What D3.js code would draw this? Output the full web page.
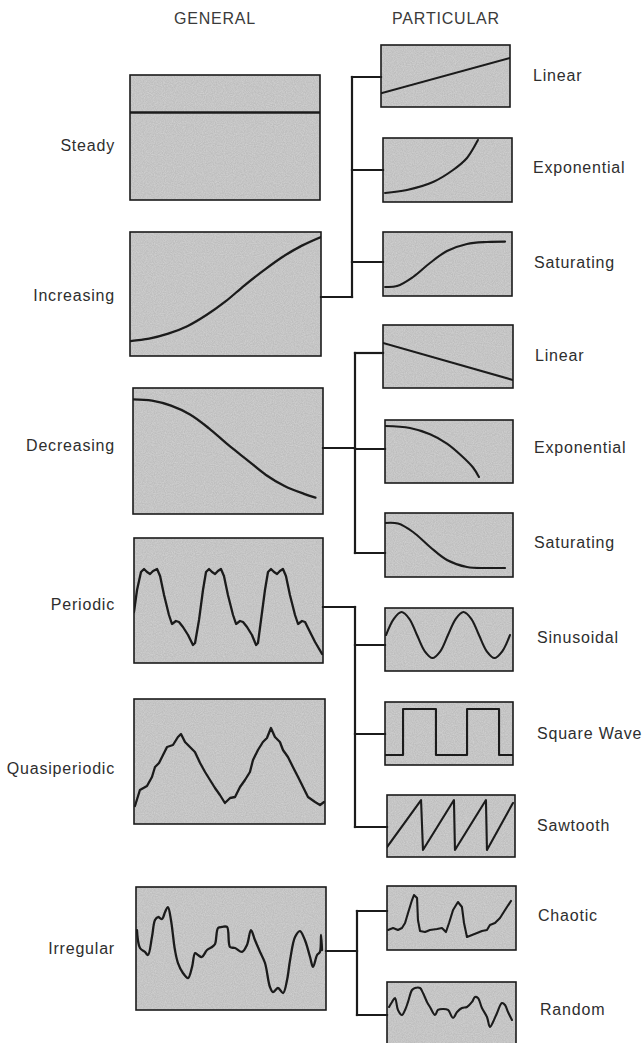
<!DOCTYPE html>
<html>
<head>
<meta charset="utf-8">
<script src="https://cdn.jsdelivr.net/npm/d3@7"></script>
<style>
  html, body { margin: 0; padding: 0; background: #ffffff; }
  svg { display: block; }
  text { font-family: "Liberation Sans", Arial, Helvetica, sans-serif; fill: #2e2e2e; }
</style>
</head>
<body>
<svg id="chart" width="642" height="1043"></svg>
<script>
// ---------------- DATA (time t: 0-100, value v: 0-100 inside each panel) ----------------
const headers = ["GENERAL", "PARTICULAR"];
const generalCategories = ["Steady", "Increasing", "Decreasing", "Periodic", "Quasiperiodic", "Irregular"];
const particularCategories = ["Linear", "Exponential", "Saturating", "Linear", "Exponential", "Saturating",
  "Sinusoidal", "Square Wave", "Sawtooth", "Chaotic", "Random"];
// which general category each particular one belongs to
const particularParent = ["Increasing", "Increasing", "Increasing", "Decreasing", "Decreasing", "Decreasing",
  "Periodic", "Periodic", "Periodic", "Irregular", "Irregular"];

const steadySeries = [[0, 70], [100, 70]];
const increasingSeries = [[0, 12], [10, 14], [20, 18], [30, 24], [40, 33], [50, 44], [60, 57], [70, 69], [80, 80], [90, 89], [100, 96]];
const decreasingSeries = [[0, 91], [10, 90], [20, 86], [30, 79], [40, 68], [50, 55], [60, 43], [70, 31], [80, 22], [90, 16], [96, 13]];
const periodicSeries = [
  [0, 40.8], [1.6, 58.4], [3.7, 72.8], [5.3, 75.2], [6.9, 72.8], [8.5, 71.2], [10.1, 73.6], [12.2, 75.2], [13.8, 69.6],
  [15.9, 54.4], [18.5, 38.4], [20.1, 31.2], [22.2, 33.6], [23.8, 32.8], [25.9, 28.8], [28.6, 22.4], [31.2, 14.4], [32.3, 16],
  [34.4, 34.4], [36.5, 58.4], [38.1, 72.8], [39.7, 75.2], [41.3, 72.8], [42.9, 71.2], [44.4, 73.6], [46.0, 75.2], [47.6, 69.6],
  [49.7, 54.4], [52.4, 38.4], [54.0, 31.2], [56.1, 33.6], [57.7, 32.8], [59.8, 28.8], [62.4, 22.4], [64.6, 14.4], [65.6, 16],
  [67.2, 34.4], [69.3, 58.4], [70.9, 72.8], [72.5, 75.2], [74.1, 72.8], [75.7, 71.2], [77.2, 73.6], [78.8, 75.2], [80.4, 69.6],
  [82.5, 54.4], [85.2, 38.4], [86.8, 31.2], [88.9, 33.6], [90.5, 32.8], [92.6, 26.4], [95.8, 16.8], [99.5, 7.2]];
const quasiperiodicSeries = [
  [0.5, 14.4], [3.1, 27.2], [6.8, 30.4], [9.4, 37.6], [11.0, 45.6], [13.1, 48.8], [15.2, 55.2], [17.3, 61.6], [20.4, 63.2],
  [23.0, 69.6], [24.6, 72.0], [26.7, 65.6], [29.3, 61.6], [31.9, 57.6], [34.6, 48.8], [37.2, 41.6], [39.8, 35.2], [42.4, 28.8],
  [45.0, 23.2], [47.6, 16.8], [50.3, 20.8], [52.9, 21.6], [55.5, 29.6], [58.1, 35.2], [60.7, 41.6], [62.3, 51.2], [64.9, 59.2],
  [67.5, 65.6], [69.6, 68.8], [71.7, 76.8], [73.8, 69.6], [76.4, 65.6], [78.0, 59.2], [80.6, 53.6], [83.2, 45.6], [85.9, 37.6],
  [88.5, 29.6], [91.1, 21.6], [94.8, 17.6], [97.4, 15.2], [99.5, 17.6]];
const irregularSeries = [
  [0.5, 65.0], [2.1, 50.4], [4.7, 47.2], [6.3, 44.7], [8.4, 59.3], [10.0, 73.2], [11.6, 75.6], [13.7, 74.0], [15.3, 79.7],
  [16.8, 83.7], [18.4, 73.2], [20.5, 48.8], [22.1, 38.2], [24.7, 30.1], [27.4, 26.0], [29.5, 35.0], [31.1, 46.3], [32.6, 44.7],
  [34.7, 43.1], [37.4, 48.8], [40.0, 51.2], [41.6, 53.7], [43.2, 66.7], [45.3, 67.5], [47.9, 67.5], [49.5, 51.2], [52.1, 50.4],
  [55.8, 47.2], [58.4, 52.8], [60.5, 65.0], [62.6, 56.9], [65.3, 47.2], [67.9, 38.2], [70.5, 18.7], [72.1, 14.6], [74.7, 17.9],
  [77.4, 13.8], [79.5, 24.4], [81.1, 40.7], [83.7, 59.3], [86.3, 64.2], [88.9, 56.9], [91.6, 43.1], [93.2, 35.0], [95.3, 44.7],
  [96.8, 47.2], [97.4, 61.0], [97.9, 48.8]];

const linearUpSeries = [[0, 22], [100, 79]];
const exponentialUpSeries = [[1.6, 14.1], [18.6, 18.8], [38.8, 31.3], [54.3, 50], [65.1, 68.8], [73.6, 96.9]];
const saturatingUpSeries = [[1.6, 14.1], [10.9, 15.5], [23.3, 29.7], [36.4, 51.6], [49.6, 70.3], [65.1, 81.3], [80.6, 84.4], [94.6, 85]];
const linearDownSeries = [[0, 71.4], [100, 12.7]];
const exponentialDownSeries = [[0, 90.5], [19.5, 87.3], [35.2, 77.4], [48.4, 62.6], [60.2, 42.5], [68.8, 24.6], [73.4, 9.5]];
const saturatingDownSeries = [[0, 84.4], [10.2, 83.5], [21.9, 70.3], [35.2, 46.9], [48.4, 26.6], [64.1, 15.6], [79.7, 14.1], [93.8, 14.1]];
const sinusoidalSeries = [[0.8, 57.1], [6.9, 82.9], [12.9, 93.6], [19.0, 82.9], [25.0, 57.1], [31.1, 31.3], [37.1, 20.6], [43.2, 31.3],
  [49.2, 57.1], [55.3, 82.9], [61.3, 93.6], [67.4, 82.9], [73.4, 57.1], [79.5, 31.3], [85.5, 20.6], [91.6, 31.3], [97.6, 57.1]];
const squareWaveSeries = [[0, 15.9], [14.1, 88.9], [39.8, 15.9], [64.1, 88.9], [89.1, 15.9], [100, 15.9]];
const sawtoothSeries = [[0, 16.1], [26.6, 91.9], [28.1, 11.3], [52.3, 91.9], [53.1, 11.3], [77.3, 91.9], [78.1, 11.3], [98.4, 87.1]];
const chaoticSeries = [
  [0.8, 31.3], [4.7, 34.4], [8.5, 31.3], [11.6, 34.4], [14.0, 42.2], [16.3, 57.8], [19.4, 78.1], [20.9, 85.9], [23.3, 81.3],
  [24.0, 46.9], [25.6, 29.7], [29.5, 28.1], [33.3, 31.3], [38.8, 32.8], [42.6, 34.4], [45.7, 28.1], [48.1, 42.2], [51.2, 62.5],
  [55.0, 75.0], [58.1, 67.2], [59.7, 42.2], [62.0, 20.3], [65.9, 23.4], [69.8, 26.6], [73.6, 29.7], [77.5, 31.3], [79.8, 39.1],
  [83.7, 42.2], [87.6, 50.0], [91.5, 62.5], [96.1, 76.6]];
const randomSeries = [
  [1.6, 60.9], [3.9, 68.8], [6.2, 75.0], [8.5, 56.3], [11.6, 48.4], [14.0, 56.3], [16.3, 68.8], [19.4, 87.5], [21.7, 90.6],
  [25.6, 90.6], [27.9, 82.8], [31.0, 68.8], [33.3, 60.9], [37.2, 48.4], [39.5, 56.3], [43.4, 57.8], [47.3, 56.3], [51.2, 43.8],
  [54.3, 53.1], [58.1, 59.4], [62.0, 60.9], [65.9, 68.8], [68.2, 76.6], [70.5, 75.0], [73.6, 59.4], [77.5, 45.3], [79.8, 29.7],
  [82.2, 37.5], [85.3, 51.6], [89.1, 67.2], [91.5, 64.1], [93.8, 53.1], [96.9, 40.6]];

// ---------------- LAYOUT (positions / sizes / styles only) ----------------
const generalPanels = [
  { box: [130, 75, 190, 125], series: steadySeries, curve: d3.curveLinear, labelY: 145 },
  { box: [130, 232, 191, 124], series: increasingSeries, curve: d3.curveCatmullRom, labelY: 295, outY: 297 },
  { box: [133, 388, 190, 126], series: decreasingSeries, curve: d3.curveCatmullRom, labelY: 445, outY: 448 },
  { box: [134, 538, 189, 125], series: periodicSeries, curve: d3.curveLinear, labelY: 604, outY: 607 },
  { box: [134, 699, 191, 125], series: quasiperiodicSeries, curve: d3.curveLinear, labelY: 768 },
  { box: [136, 887, 190, 123], series: irregularSeries, curve: d3.curveCatmullRom, labelY: 948, outY: 951 }
];
const particularPanels = [
  { box: [381, 45, 129, 62], series: linearUpSeries, curve: d3.curveLinear, labelX: 533, labelY: 75, branchY: 77 },
  { box: [383, 138, 129, 64], series: exponentialUpSeries, curve: d3.curveCatmullRom, labelX: 533, labelY: 167, branchY: 170 },
  { box: [383, 232, 129, 64], series: saturatingUpSeries, curve: d3.curveCatmullRom, labelX: 534, labelY: 262, branchY: 262 },
  { box: [383, 325, 130, 63], series: linearDownSeries, curve: d3.curveLinear, labelX: 535, labelY: 355, branchY: 353 },
  { box: [385, 420, 128, 63], series: exponentialDownSeries, curve: d3.curveCatmullRom, labelX: 534, labelY: 447, branchY: 449 },
  { box: [385, 513, 128, 64], series: saturatingDownSeries, curve: d3.curveCatmullRom, labelX: 534, labelY: 542, branchY: 553 },
  { box: [385, 608, 128, 63], series: sinusoidalSeries, curve: d3.curveCatmullRom, labelX: 537, labelY: 637, branchY: 645 },
  { box: [385, 702, 128, 63], series: squareWaveSeries, curve: d3.curveStepAfter, labelX: 537, labelY: 733, branchY: 734 },
  { box: [387, 795, 128, 62], series: sawtoothSeries, curve: d3.curveLinear, labelX: 537, labelY: 825, branchY: 827 },
  { box: [387, 886, 129, 64], series: chaoticSeries, curve: d3.curveLinear, labelX: 538, labelY: 915, branchY: 911 },
  { box: [387, 982, 129, 64], series: randomSeries, curve: d3.curveCatmullRom, labelX: 540, labelY: 1009, branchY: 1015 }
];
const spineX = { Increasing: 352, Decreasing: 355, Periodic: 355, Irregular: 357 };

const INK = "#1b1b1b";
const FILL = "#bdbdbd";
const LABEL_SIZE = "16px";
const LABEL_SPACING = "0.8px";

const svg = d3.select("#chart");
const defs = svg.append("defs");
// subtle paper-grain texture for panel fill
const grain = defs.append("filter").attr("id", "grain").attr("x", 0).attr("y", 0).attr("width", 1).attr("height", 1);
grain.append("feTurbulence").attr("type", "fractalNoise").attr("baseFrequency", 0.9).attr("numOctaves", 2).attr("seed", 3).attr("result", "n");
grain.append("feColorMatrix").attr("in", "n").attr("type", "matrix")
  .attr("values", "0 0 0 0 0.74  0 0 0 0 0.74  0 0 0 0 0.74  0 0 0 -1.4 1.1").attr("result", "g");
grain.append("feComposite").attr("in", "g").attr("in2", "SourceGraphic").attr("operator", "in");

// headers
svg.append("text").attr("x", 215).attr("y", 24).attr("text-anchor", "middle")
  .style("font-size", LABEL_SIZE).style("letter-spacing", LABEL_SPACING).style("fill", "#3a3a3a").text(headers[0]);
svg.append("text").attr("x", 446).attr("y", 24).attr("text-anchor", "middle")
  .style("font-size", LABEL_SIZE).style("letter-spacing", LABEL_SPACING).style("fill", "#3a3a3a").text(headers[1]);

function drawPanel(p, idx, kind) {
  const [bx, by, bw, bh] = p.box;
  const x = d3.scaleLinear().domain([0, 100]).range([bx, bx + bw]);
  const y = d3.scaleLinear().domain([0, 100]).range([by + bh, by]);
  const g = svg.append("g");
  const clipId = `clip-${kind}-${idx}`;
  defs.append("clipPath").attr("id", clipId).append("rect").attr("x", bx).attr("y", by).attr("width", bw).attr("height", bh);
  g.append("rect").attr("x", bx).attr("y", by).attr("width", bw).attr("height", bh).attr("fill", FILL);
  g.append("rect").attr("x", bx).attr("y", by).attr("width", bw).attr("height", bh).attr("fill", "#c4c4c4").attr("filter", "url(#grain)").attr("opacity", 0.6);
  const line = d3.line().x(d => x(d[0])).y(d => y(d[1])).curve(p.curve);
  g.append("path").datum(p.series).attr("d", line).attr("fill", "none").attr("stroke", INK)
    .attr("stroke-width", kind === "g" ? 2.3 : 2.1).attr("stroke-linejoin", "round").attr("stroke-linecap", "round")
    .attr("clip-path", `url(#${clipId})`);
  g.append("rect").attr("x", bx).attr("y", by).attr("width", bw).attr("height", bh)
    .attr("fill", "none").attr("stroke", INK).attr("stroke-width", 1.6);
}

generalPanels.forEach((p, i) => {
  drawPanel(p, i, "g");
  svg.append("text").attr("x", 115).attr("y", p.labelY).attr("dy", "0.36em").attr("text-anchor", "end")
    .style("font-size", LABEL_SIZE).style("letter-spacing", LABEL_SPACING).text(generalCategories[i]);
});
particularPanels.forEach((p, i) => {
  drawPanel(p, i, "p");
  svg.append("text").attr("x", p.labelX).attr("y", p.labelY).attr("dy", "0.36em").attr("text-anchor", "start")
    .style("font-size", LABEL_SIZE).style("letter-spacing", LABEL_SPACING).text(particularCategories[i]);
});

// connectors
const conn = svg.append("g").attr("stroke", INK).attr("stroke-width", 2.2).attr("fill", "none").attr("stroke-linecap", "square");
generalCategories.forEach((name, i) => {
  const gp = generalPanels[i];
  const kids = particularPanels.map((p, j) => ({ p, parent: particularParent[j] })).filter(d => d.parent === name).map(d => d.p);
  if (!kids.length) return;
  const sx = spineX[name];
  const gx = gp.box[0] + gp.box[2];
  conn.append("line").attr("x1", gx).attr("x2", sx).attr("y1", gp.outY).attr("y2", gp.outY);
  const ys = kids.map(k => k.branchY).concat([gp.outY]);
  conn.append("line").attr("x1", sx).attr("x2", sx).attr("y1", d3.min(ys)).attr("y2", d3.max(ys));
  kids.forEach(k => {
    conn.append("line").attr("x1", sx).attr("x2", k.box[0]).attr("y1", k.branchY).attr("y2", k.branchY);
  });
});
</script>
</body>
</html>
